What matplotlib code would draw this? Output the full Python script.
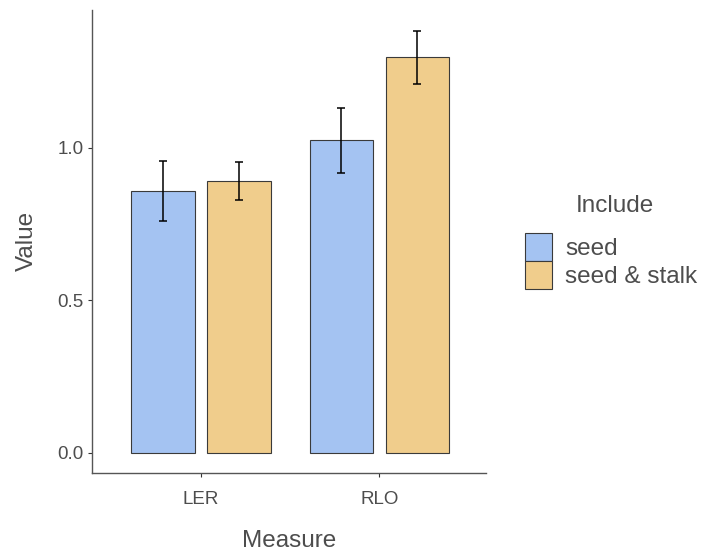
import matplotlib
matplotlib.use("Agg")
import matplotlib.pyplot as plt
import numpy as np
from matplotlib.patches import Patch

plt.rcParams["font.family"] = ["Liberation Sans", "DejaVu Sans"]

measures = ["LER", "RLO"]
groups = ["seed", "seed & stalk"]
seed_vals = [0.858, 1.024]
seed_err = [0.098, 0.107]
stalk_vals = [0.890, 1.295]
stalk_err = [0.061, 0.088]

COLORS = {"seed": "#A4C3F2", "seed & stalk": "#F0CD8C"}
EDGE = "#3a3a3a"
TXT = "#4d4d4d"

fig = plt.figure(figsize=(7.08, 5.52), dpi=100)
ax = fig.add_axes([0.130, 0.1437, 0.557, 0.838])

x = np.arange(1, len(measures) + 1)
width = 0.355
offset = 0.213
for vals, errs, name, sign in [(seed_vals, seed_err, "seed", -1),
                               (stalk_vals, stalk_err, "seed & stalk", 1)]:
    pos = x + sign * offset
    ax.bar(pos, vals, width=width, color=COLORS[name], edgecolor=EDGE,
           linewidth=0.8, zorder=2)
    ax.errorbar(pos, vals, yerr=errs, fmt="none", ecolor="black",
                elinewidth=1.1, capsize=3.2, capthick=1.1, zorder=3)

ax.set_xlim(0.39, 2.60)
ax.set_ylim(-0.065, 1.45)
ax.set_xticks(x)
ax.set_xticklabels(measures)
ax.set_yticks([0.0, 0.5, 1.0])
ax.set_yticklabels(["0.0", "0.5", "1.0"])

for side in ["top", "right"]:
    ax.spines[side].set_visible(False)
for side in ["left", "bottom"]:
    ax.spines[side].set_color("#555555")
    ax.spines[side].set_linewidth(1.0)

ax.tick_params(axis="both", colors="#333333", length=3.2, width=0.8,
               labelsize=13.5, labelcolor=TXT)
ax.tick_params(axis="x", pad=10)
ax.tick_params(axis="y", pad=3)

ax.set_xlabel("Measure", fontsize=17.5, color=TXT, labelpad=16)
ax.set_ylabel("Value", fontsize=17.5, color=TXT, labelpad=14)

handles = [Patch(facecolor=COLORS[g], edgecolor=EDGE, linewidth=0.8, label=g)
           for g in groups]
leg = fig.legend(handles=handles, loc="center left",
                 bbox_to_anchor=(0.7415, 0.527), frameon=False,
                 fontsize=17.5, handlelength=1.1, handleheight=1.4,
                 labelspacing=0.0, handletextpad=0.55,
                 borderaxespad=0, borderpad=0)
for t in leg.get_texts():
    t.set_color(TXT)
fig.text(0.868, 0.627, "Include", fontsize=17.5, color=TXT,
         ha="center", va="center")

fig.savefig("out.png", dpi=100)
